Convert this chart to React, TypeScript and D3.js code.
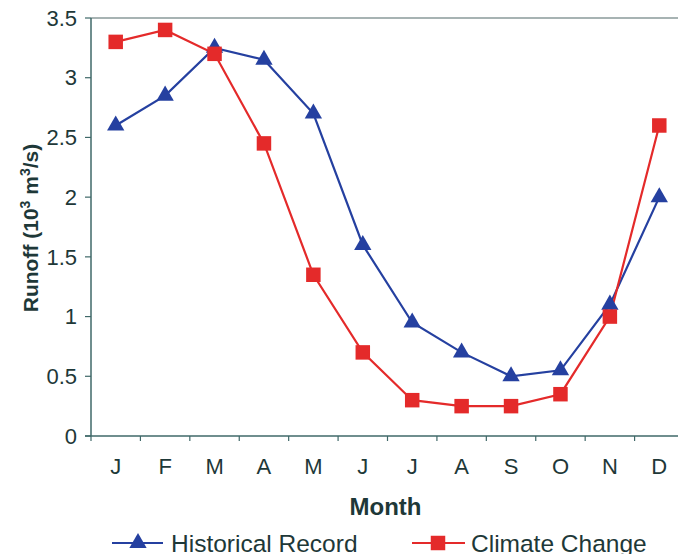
import React from "react";
import * as d3 from "d3";

const months = ["J", "F", "M", "A", "M", "J", "J", "A", "S", "O", "N", "D"];
const historical = [2.6, 2.85, 3.25, 3.15, 2.7, 1.6, 0.95, 0.7, 0.5, 0.55, 1.1, 2.0];
const climate = [3.3, 3.4, 3.2, 2.45, 1.35, 0.7, 0.3, 0.25, 0.25, 0.35, 1.0, 2.6];
const yTicks = [0, 0.5, 1, 1.5, 2, 2.5, 3, 3.5];
const yTickLabels = ["0", "0.5", "1", "1.5", "2", "2.5", "3", "3.5"];

const W = 678, H = 554;
const left = 91, top = 18, right = 684, bottom = 436;
const axisColor = "#3f6868";
const textColor = "#1e3838";
const blue = "#2540a0";
const red = "#e42a2a";
const font = "'Liberation Sans', Arial, sans-serif";

export default function App() {
  const idx = months.map((_, i) => i);
  const x = d3.scaleBand<number>().domain(idx).range([left, right]);
  const y = d3.scaleLinear().domain([0, 3.5]).range([bottom, top]);
  const cx = (i: number) => (x(i) as number) + x.bandwidth() / 2;
  const line = d3
    .line<number>()
    .x((_, i) => cx(i))
    .y((d) => y(d))
    .curve(d3.curveLinear);
  const tri = d3.symbol().type(d3.symbolTriangle).size(130)();
  const sq = d3.symbol().type(d3.symbolSquare).size(210)();
  const boundaries = d3.range(13).map((i) => left + i * x.bandwidth());

  return (
    <svg width={W} height={H} style={{ position: "absolute", left: 0, top: 0, background: "#fff" }} fontFamily={font}>
      <rect x={0} y={0} width={W} height={H} fill="#fff" />
      {/* plot border top */}
      <line x1={left} x2={W} y1={top} y2={top} stroke="#8a9a9a" strokeWidth={1.5} />
      {/* axes */}
      <line x1={left} x2={left} y1={top} y2={bottom} stroke={axisColor} strokeWidth={1.5} />
      <line x1={left - 6} x2={W} y1={bottom} y2={bottom} stroke={axisColor} strokeWidth={1.5} />
      {yTicks.map((t, i) => (
        <g key={"y" + i}>
          <line x1={left - 6} x2={left} y1={y(t)} y2={y(t)} stroke={axisColor} strokeWidth={1.2} />
          <text x={left - 14} y={y(t)} dy="0.35em" textAnchor="end" fontSize={22} fill={textColor}>
            {yTickLabels[i]}
          </text>
        </g>
      ))}
      {boundaries.map((b, i) => (
        <line key={"xt" + i} x1={b} x2={b} y1={bottom} y2={bottom + 5} stroke={axisColor} strokeWidth={1.2} />
      ))}
      {months.map((m, i) => (
        <text key={"m" + i} x={cx(i)} y={474} textAnchor="middle" fontSize={22} fill={textColor}>
          {m}
        </text>
      ))}
      <text x={(left + right) / 2 - 2} y={515} textAnchor="middle" fontSize={24} fontWeight="bold" fill={textColor}>
        Month
      </text>
      <text transform={`translate(38, 228) rotate(-90)`} textAnchor="middle" fontSize={21} fontWeight="bold" fill={textColor}>
        Runoff (10<tspan dy={-8} fontSize={14}>3</tspan>
        <tspan dy={8}> m</tspan>
        <tspan dy={-8} fontSize={14}>3</tspan>
        <tspan dy={8}>/s)</tspan>
      </text>
      {/* series */}
      <path d={line(historical) || ""} fill="none" stroke={blue} strokeWidth={2.2} />
      <path d={line(climate) || ""} fill="none" stroke={red} strokeWidth={2.2} />
      {historical.map((v, i) => (
        <path key={"h" + i} d={tri || ""} transform={`translate(${cx(i)},${y(v)})`} fill={blue} />
      ))}
      {climate.map((v, i) => (
        <path key={"c" + i} d={sq || ""} transform={`translate(${cx(i)},${y(v)})`} fill={red} />
      ))}
      {/* legend */}
      <line x1={112} x2={163} y1={543} y2={543} stroke={blue} strokeWidth={2.2} />
      <path d={tri || ""} transform="translate(138,543)" fill={blue} />
      <text x={171} y={552} fontSize={24.5} fill={textColor}>Historical Record</text>
      <line x1={412} x2={465} y1={543} y2={543} stroke={red} strokeWidth={2.2} />
      <path d={sq || ""} transform="translate(438,543)" fill={red} />
      <text x={471} y={552} fontSize={24.5} fill={textColor}>Climate Change</text>
    </svg>
  );
}
